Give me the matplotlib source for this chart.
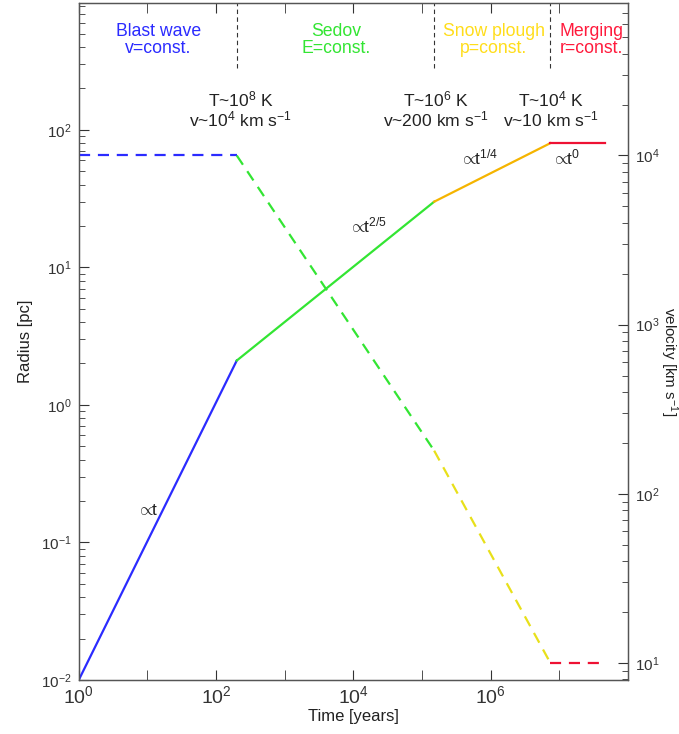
import matplotlib
matplotlib.use("Agg")
import matplotlib.pyplot as plt
from matplotlib.ticker import FixedLocator, FixedFormatter, LogLocator, NullFormatter

plt.rcParams['font.family'] = ['Liberation Sans', 'DejaVu Sans']
plt.rcParams['mathtext.fontset'] = 'custom'
plt.rcParams['mathtext.rm'] = 'Liberation Sans'
plt.rcParams['mathtext.it'] = 'Liberation Sans'

# phases: times [years], radius [pc], velocity [km/s]
t_blast = [1, 200]
R_blast = [0.01, 2.1]
v_blast = [1e4, 1e4]

t_sedov = [200, 1.5e5]
R_sedov = [2.1, 30]
v_sedov = [1e4, 180]

t_snow = [1.5e5, 7.4e6]
R_snow = [30, 80]
v_snow = [180, 10]

t_merge = [7.4e6, 4.6e7]
R_merge = [80, 80]
v_merge = [10, 10]

t_bounds = [200, 1.5e5, 7.4e6]

phase_names = ["Blast wave\nv=const.", "Sedov\nE=const.", "Snow plough\np=const.", "Merging\nr=const."]
phase_x = [14.5, 5600, 1.1e6, 2.9e7]
phase_cols = ['#2b2bff', '#33e533', '#ffdd1a', '#ff1a3c']

cond_labels = ["T~10$^8$ K\nv~10$^4$ km s$^{-1}$",
               "T~10$^6$ K\nv~200 km s$^{-1}$",
               "T~10$^4$ K\nv~10 km s$^{-1}$"]
cond_x = [230, 1.6e5, 7.6e6]

slope_labels = [r"$\propto\!\!$t", r"$\propto\!\!$t$^{2/5}$", r"$\propto\!\!$t$^{1/4}$", r"$\propto\!\!$t$^{0}$"]
slope_t = [10, 1.6e4, 6.7e5, 1.25e7]
slope_R = [0.17, 20, 63, 63]

xticks = [1, 1e2, 1e4, 1e6]
xticklabels = [r"$10^{0}$", r"$10^{2}$", r"$10^{4}$", r"$10^{6}$"]
yticks = [1e-2, 1e-1, 1, 10, 100]
yticklabels = [r"$10^{-2}$", r"$10^{-1}$", r"$10^{0}$", r"$10^{1}$", r"$10^{2}$"]
y2ticks = [10, 100, 1e3, 1e4]
y2ticklabels = [r"$10^{1}$", r"$10^{2}$", r"$10^{3}$", r"$10^{4}$"]

fig = plt.figure(figsize=(6.79, 7.34), dpi=100)
ax = fig.add_axes([0.116, 0.0736, 0.809, 0.922])
ax2 = ax.twinx()

lw = 1.6
dash = (0, (5, 3.5))
ax.plot(t_blast, R_blast, color='#2b2bff', lw=lw)
ax.plot(t_sedov, R_sedov, color='#33e533', lw=lw)
ax.plot(t_snow, R_snow, color='#f5b400', lw=lw)
ax.plot(t_merge, R_merge, color='#ee1133', lw=lw)

ax2.plot(t_blast, v_blast, color='#2b2bff', lw=lw, linestyle=dash)
ax2.plot(t_sedov, v_sedov, color='#33e533', lw=lw, linestyle=dash)
ax2.plot(t_snow, v_snow, color='#e8e01a', lw=lw, linestyle=dash)
ax2.plot(t_merge, v_merge, color='#ee1133', lw=lw, linestyle=dash)

for tb in t_bounds:
    ax.axvline(tb, ymin=0.905, ymax=1.0, color='#333333', lw=0.8, linestyle=(0, (4, 3)))

trans = ax.get_xaxis_transform()
for name, x, c in zip(phase_names, phase_x, phase_cols):
    ax.text(x, 0.945, name, transform=trans, color=c, fontsize=12.7,
            ha='center', va='center', linespacing=1.0)

for lab, x in zip(cond_labels, cond_x):
    ax.text(x, 0.843, lab, transform=trans, color='#222222', fontsize=12.6,
            ha='center', va='center', linespacing=1.05)

for lab, x, y in zip(slope_labels, slope_t, slope_R):
    ax.text(x, y, lab, color='#222222', fontsize=12.5, ha='center', va='center')

ax.set_xscale('log')
ax.set_yscale('log')
ax2.set_yscale('log')
ax.set_xlim(1, 1e8)
ax.set_ylim(1e-2, 10 ** 2.92)
ax2.set_ylim(10 ** 0.9, 10 ** 4.9)

ax.xaxis.set_major_locator(FixedLocator(xticks))
ax.xaxis.set_major_formatter(FixedFormatter(xticklabels))
ax.xaxis.set_minor_locator(FixedLocator([10 ** k for k in range(1, 9, 2)]))
ax.xaxis.set_minor_formatter(NullFormatter())

ax.yaxis.set_major_locator(FixedLocator(yticks))
ax.yaxis.set_major_formatter(FixedFormatter(yticklabels))
ax.yaxis.set_minor_locator(LogLocator(base=10, subs=range(2, 10), numticks=20))
ax.yaxis.set_minor_formatter(NullFormatter())

ax2.yaxis.set_major_locator(FixedLocator(y2ticks))
ax2.yaxis.set_major_formatter(FixedFormatter(y2ticklabels))
ax2.yaxis.set_minor_locator(LogLocator(base=10, subs=range(2, 10), numticks=20))
ax2.yaxis.set_minor_formatter(NullFormatter())

ax.tick_params(axis='x', which='both', direction='in', top=True, labelsize=14, pad=4)
ax.tick_params(axis='x', which='major', length=7)
ax.tick_params(axis='x', which='minor', length=7)
ax.tick_params(axis='y', which='both', direction='in', right=False, labelsize=11, pad=5)
ax.tick_params(axis='y', which='major', length=7)
ax.tick_params(axis='y', which='minor', length=4)
ax2.tick_params(axis='y', which='both', direction='in', labelsize=11, pad=5)
ax2.tick_params(axis='y', which='major', length=7)
ax2.tick_params(axis='y', which='minor', length=4)

for a in (ax, ax2):
    for s in a.spines.values():
        s.set_color('#555555')
        s.set_linewidth(0.9)
ax.tick_params(colors='#333333', which='both')
ax2.tick_params(colors='#333333', which='both')

ax.set_xlabel("Time [years]", fontsize=12, color='#222222', labelpad=1)
ax.set_ylabel("Radius [pc]", fontsize=12, color='#222222', labelpad=6)
ax2.set_ylabel("velocity [km s$^{-1}$]", fontsize=11, color='#222222', rotation=-90, labelpad=12)
ax2.yaxis.set_label_coords(1.094, 0.47)

fig.savefig("out.png", dpi=100)
